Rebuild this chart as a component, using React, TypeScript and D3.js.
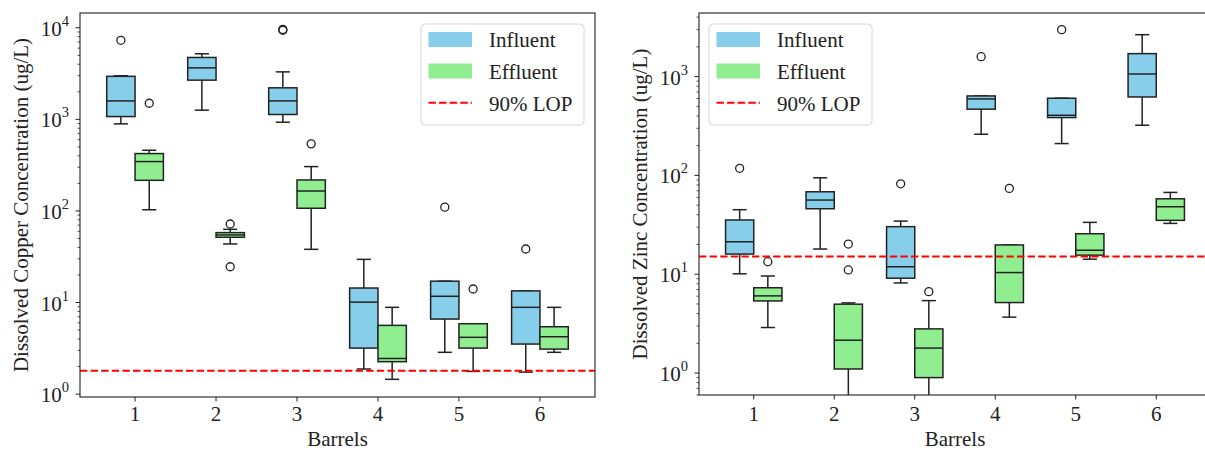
import React from "react";
import * as d3 from "d3";

// five-number summaries per barrel: [whisker low, q1, median, q3, whisker high]
const barrels = [1, 2, 3, 4, 5, 6];

const copperInfluent = [
  [893, 1073, 1590, 2950, 2990],
  [1260, 2680, 3650, 4740, 5200],
  [931, 1130, 1590, 2210, 3300],
  [1.88, 3.18, 10.1, 14.4, 29.6],
  [2.86, 6.6, 11.7, 17.1, 17.1],
  [1.74, 3.52, 8.86, 13.4, 13.4],
];
const copperInfluentOutliers = [[7300], [], [9600, 9400], [], [110], [38.4]];

const copperEffluent = [
  [103, 216, 346, 423, 460],
  [43.6, 51.6, 54.7, 58, 63],
  [38.1, 107, 165, 218, 305],
  [1.45, 2.26, 2.45, 5.63, 8.86],
  [1.77, 3.18, 4.17, 5.87, 5.87],
  [2.86, 3.1, 4.23, 5.44, 8.86],
];
const copperEffluentOutliers = [[1500], [72, 24.6], [540], [], [14.05], []];

const zincInfluent = [
  [10.1, 16, 21.3, 35.4, 45],
  [18, 46, 56.3, 68.3, 94.6],
  [8.17, 9.12, 11.9, 30.3, 34.5],
  [261, 468, 594, 637, 637],
  [210, 385, 406, 604, 604],
  [322, 622, 1062, 1707, 2655],
];
const zincInfluentOutliers = [[118], [], [82.3], [1590], [2985], []];

const zincEffluent = [
  [2.89, 5.37, 6.04, 7.3, 9.6],
  [0.45, 1.1, 2.15, 4.98, 5.13],
  [0.45, 0.9, 1.79, 2.8, 5.41],
  [3.68, 5.17, 10.4, 19.8, 19.8],
  [14.2, 15.6, 17.5, 25.7, 33.5],
  [32.7, 35.1, 48.2, 58, 67.3],
];
const zincEffluentOutliers = [[13.4], [20.2, 11.05], [6.67], [73.9], [], []];

const copperLop = 1.8;
const zincLop = 15.1;

const legendLabels = ["Influent", "Effluent", "90% LOP"];

const FONT = "Liberation Serif, Times New Roman, serif";
const FS = 21;
const INF_COLOR = "#87CEEB";
const EFF_COLOR = "#90EE90";
const EDGE = "#222";

type PanelProps = {
  id: string;
  left: number;
  right: number;
  yDomain: [number, number];
  influent: number[][];
  influentOut: number[][];
  effluent: number[][];
  effluentOut: number[][];
  lop: number;
  yLabel: string;
  legendX: number;
};

const TOP = 13;

function Panel(p: PanelProps) {
  const bottom = p.id === "cu" ? 397 : 395;
  const x = d3.scaleLinear().domain([0.32, 6.68]).range([p.left, p.right]);
  const y = d3.scaleLog().domain(p.yDomain).range([bottom, TOP]);
  const boxW = 0.35;
  const bw = x(boxW) - x(0);

  const majors: number[] = [];
  const minors: number[] = [];
  const lo = Math.floor(Math.log10(p.yDomain[0]));
  const hi = Math.ceil(Math.log10(p.yDomain[1]));
  for (let k = lo; k <= hi; k++) {
    const base = Math.pow(10, k);
    if (base >= p.yDomain[0] && base <= p.yDomain[1]) majors.push(k);
    for (let m = 2; m <= 9; m++) {
      const v = m * base;
      if (v >= p.yDomain[0] && v <= p.yDomain[1]) minors.push(v);
    }
  }

  const drawBox = (s: number[], cx: number, fill: string, key: string) => {
    const [wl, q1, med, q3, wh] = s;
    const x0 = cx - bw / 2;
    const cap = bw / 4;
    return (
      <g key={key}>
        <line x1={cx} x2={cx} y1={y(wh)} y2={y(q3)} stroke={EDGE} strokeWidth={1.5} />
        <line x1={cx} x2={cx} y1={y(q1)} y2={y(wl)} stroke={EDGE} strokeWidth={1.5} />
        <line x1={cx - cap} x2={cx + cap} y1={y(wh)} y2={y(wh)} stroke={EDGE} strokeWidth={1.5} />
        <line x1={cx - cap} x2={cx + cap} y1={y(wl)} y2={y(wl)} stroke={EDGE} strokeWidth={1.5} />
        <rect x={x0} y={y(q3)} width={bw} height={y(q1) - y(q3)} fill={fill} stroke={EDGE} strokeWidth={1.5} />
        <line x1={x0} x2={x0 + bw} y1={y(med)} y2={y(med)} stroke={EDGE} strokeWidth={1.5} />
      </g>
    );
  };

  const drawOut = (vals: number[], cx: number, key: string) =>
    vals.map((v, j) => (
      <circle key={key + j} cx={cx} cy={y(v)} r={4} fill="none" stroke={EDGE} strokeWidth={1.3} />
    ));

  const lx = p.legendX;
  return (
    <g style={{ fontFamily: FONT }}>
      <defs>
        <clipPath id={"clip-" + p.id}>
          <rect x={p.left} y={TOP} width={p.right - p.left} height={bottom - TOP} />
        </clipPath>
      </defs>
      <g clipPath={`url(#clip-${p.id})`}>
        {barrels.map((b, i) => (
          <g key={b}>
            {drawBox(p.influent[i], x(b - boxW / 2), INF_COLOR, "i" + b)}
            {drawBox(p.effluent[i], x(b + boxW / 2), EFF_COLOR, "e" + b)}
            {drawOut(p.influentOut[i], x(b - boxW / 2), "io" + b)}
            {drawOut(p.effluentOut[i], x(b + boxW / 2), "eo" + b)}
          </g>
        ))}
        <line x1={p.left} x2={p.right} y1={y(p.lop)} y2={y(p.lop)} stroke="red" strokeWidth={2} strokeDasharray="7.4,3.2" />
      </g>

      {/* frame */}
      <rect x={p.left} y={TOP} width={p.right - p.left} height={bottom - TOP} fill="none" stroke="#333" strokeWidth={1.2} />

      {/* y ticks */}
      {majors.map((k) => (
        <g key={"M" + k}>
          <line x1={p.left - 4.5} x2={p.left} y1={y(Math.pow(10, k))} y2={y(Math.pow(10, k))} stroke="#222" strokeWidth={1} />
          <text x={p.left - 11} y={y(Math.pow(10, k)) + 8} textAnchor="end" fontSize={FS} fill="#222">
            10
            <tspan fontSize={14.5} dy={-10}>{k}</tspan>
          </text>
        </g>
      ))}
      {minors.map((v, j) => (
        <line key={"m" + j} x1={p.left - 2.5} x2={p.left} y1={y(v)} y2={y(v)} stroke="#222" strokeWidth={0.8} />
      ))}

      {/* x ticks */}
      {barrels.map((b) => (
        <g key={"x" + b}>
          <line x1={x(b)} x2={x(b)} y1={bottom} y2={bottom + 4.5} stroke="#222" strokeWidth={1} />
          <text x={x(b)} y={421} textAnchor="middle" fontSize={FS} fill="#222">
            {b}
          </text>
        </g>
      ))}

      <text x={(p.left + p.right) / 2} y={446} textAnchor="middle" fontSize={FS} fill="#222">
        Barrels
      </text>
      <text
        transform={`translate(${p.id === "cu" ? 28 : 647},${(TOP + bottom) / 2}) rotate(-90)`}
        textAnchor="middle"
        fontSize={FS}
        fill="#222"
      >
        {p.yLabel}
      </text>

      {/* legend */}
      <g>
        <rect x={lx} y={24} width={163} height={101} rx={4} fill="white" fillOpacity={0.8} stroke="#d6d6d6" strokeWidth={1} />
        <rect x={lx + 7.5} y={32} width={43.5} height={15} fill={INF_COLOR} />
        <rect x={lx + 7.5} y={63.5} width={43.5} height={15} fill={EFF_COLOR} />
        <line x1={lx + 7.5} x2={lx + 51} y1={102.7} y2={102.7} stroke="red" strokeWidth={2} strokeDasharray="7.4,3.2" />
        {legendLabels.map((t, i) => (
          <text key={t} x={lx + 68} y={47 + i * 32} fontSize={FS} fill="#222">
            {t}
          </text>
        ))}
      </g>
    </g>
  );
}

export default function App() {
  return (
    <div style={{ position: "absolute", left: 0, top: 0 }}>
      <svg width={1205} height={450} style={{ display: "block", background: "white" }}>
        <Panel
          id="cu"
          left={80}
          right={595}
          yDomain={[0.93, 14500]}
          influent={copperInfluent}
          influentOut={copperInfluentOutliers}
          effluent={copperEffluent}
          effluentOut={copperEffluentOutliers}
          lop={copperLop}
          yLabel="Dissolved Copper Concentration (ug/L)"
          legendX={421}
        />
        <Panel
          id="zn"
          left={699}
          right={1211}
          yDomain={[0.6, 4400]}
          influent={zincInfluent}
          influentOut={zincInfluentOutliers}
          effluent={zincEffluent}
          effluentOut={zincEffluentOutliers}
          lop={zincLop}
          yLabel="Dissolved Zinc Concentration (ug/L)"
          legendX={709}
        />
      </svg>
    </div>
  );
}
